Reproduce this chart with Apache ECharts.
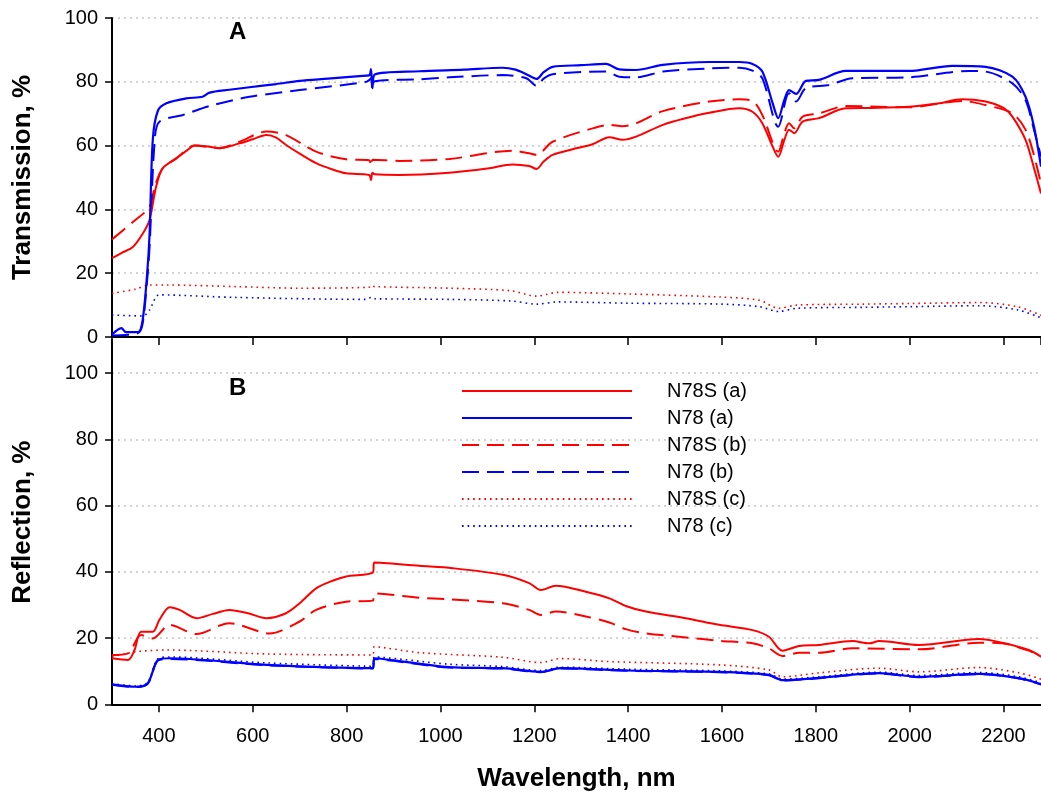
<!DOCTYPE html>
<html>
<head>
<meta charset="utf-8">
<script src="https://cdn.jsdelivr.net/npm/echarts@6/dist/echarts.min.js"></script>
<style>
  html, body { margin: 0; padding: 0; background: #fff; }
  #chart { width: 1041px; height: 800px; }
</style>
</head>
<body>
<div id="chart"></div>
<script>
// series names (legend)
var seriesNames = ['N78S (a)', 'N78 (a)', 'N78S (b)', 'N78 (b)', 'N78S (c)', 'N78 (c)'];

// panel A - transmission, [wavelength nm, %]
var transN78Sa = [[300,24.7],[320,26.3],[345,28.3],[366,32.5],[380,36.7],[394,47.1],[408,52.9],[437,56],[460,58.5],[476,60],[500,59.8],[529,59.2],[572,60.7],[600,62],[629,63.3],[650,62.5],[671,60.2],[700,57.5],[735,54.5],[770,52.5],[799,51.3],[848,50.8],[852,49.2],[855,51.5],[860,51],[913,50.8],[1019,51.5],[1100,52.8],[1154,54.1],[1189,53.6],[1205,52.7],[1220,55],[1239,57.1],[1280,58.8],[1324,60.4],[1360,62.6],[1388,61.8],[1417,62.8],[1474,66.5],[1520,68.5],[1573,70.3],[1637,71.7],[1665,70.6],[1686,67],[1708,59.7],[1720,56.5],[1733,61.8],[1743,65],[1754,63.9],[1772,67.5],[1807,68.6],[1864,71.7],[1920,71.8],[1999,72.2],[2060,73.2],[2112,74.5],[2162,73.8],[2200,71.8],[2219,69.1],[2247,61.8],[2265,53],[2280,45]];
var transN78a = [[300,0.8],[320,2.8],[330,1.5],[355,1.5],[365,5],[375,20],[380,32],[387,62],[398,71],[416,73.3],[458,74.8],[493,75.3],[508,76.6],[550,77.5],[593,78.3],[650,79.3],[700,80.3],[760,81],[827,81.8],[848,82],[852,84],[855,78],[860,82.3],[955,83.3],[1050,83.8],[1132,84.4],[1160,83.8],[1183,82.4],[1205,80.9],[1220,83],[1239,84.7],[1300,85.2],[1353,85.6],[1381,83.9],[1417,83.7],[1474,85.3],[1573,86.2],[1637,86.2],[1665,85.6],[1686,83.2],[1708,73.3],[1720,68.6],[1733,74.3],[1743,77.4],[1758,76.2],[1779,80.3],[1807,80.6],[1864,83.4],[1999,83.4],[2091,85],[2162,84.7],[2219,81.6],[2247,75.3],[2265,66],[2280,53.4]];
var transN78Sb = [[300,30.6],[345,36.1],[380,40.8],[391,47.1],[408,52.9],[437,56],[476,60],[529,59.2],[572,61.2],[629,64.4],[671,63.3],[735,58.1],[799,55.7],[848,55.4],[852,53.5],[856,55.6],[913,55.2],[1019,55.8],[1154,58.4],[1189,57.6],[1205,57.1],[1239,61.2],[1324,65.4],[1360,66.5],[1388,66.1],[1417,67],[1474,70.8],[1573,73.8],[1637,74.5],[1665,74],[1686,69.6],[1720,58.1],[1733,63.9],[1743,67],[1754,65.4],[1772,69.1],[1807,70.1],[1864,72.4],[1999,72],[2112,74],[2162,72.7],[2219,70.1],[2247,65],[2265,57],[2280,48]];
var transN78b = [[300,0.5],[355,1.2],[365,4],[375,18],[380,28],[391,61.8],[401,67.5],[451,69.6],[508,72.4],[593,75.3],[700,77.4],[842,80],[852,81],[855,77.5],[860,80.2],[955,80.8],[1019,81.4],[1132,82.1],[1183,81.1],[1205,78.7],[1220,81],[1239,82.4],[1353,83.2],[1381,81.6],[1417,81.4],[1474,83.2],[1573,84.2],[1637,84.4],[1665,83.5],[1686,81.1],[1720,65.9],[1743,76.4],[1758,73.8],[1779,78],[1828,79],[1878,81.1],[1999,81.4],[2127,83.4],[2162,83.2],[2219,79.5],[2247,74.3],[2265,65],[2280,56.5]];
var transN78Sc = [[300,13.7],[350,15],[380,16.3],[416,16.3],[565,15.8],[700,15.3],[848,15.6],[852,16.2],[860,15.8],[1019,15.3],[1150,14.5],[1205,12.8],[1250,14],[1400,13.5],[1600,12.5],[1680,11.5],[1720,9],[1760,10],[1900,10.3],[2000,10.5],[2150,10.8],[2230,9.5],[2280,6.8]];
var transN78c = [[300,6.9],[366,6.6],[380,8.5],[401,13.2],[565,12.4],[842,11.8],[852,12.4],[860,12],[1019,11.8],[1150,11.3],[1205,10.3],[1250,11],[1400,10.6],[1600,10.3],[1680,9.5],[1720,8],[1760,9],[1900,9.3],[2000,9.5],[2150,9.8],[2230,8.5],[2280,6]];

// panel B - reflection, [wavelength nm, %]
var reflN78Sa = [[300,13.9],[334,13.4],[348,16.4],[362,21.9],[387,21.9],[401,25.5],[423,29.3],[444,28.5],[480,26],[515,27.3],[550,28.5],[590,27.5],[629,26],[671,27.5],[700,30.5],[735,35],[770,37.3],[799,38.6],[856,39.8],[859,42.8],[955,41.8],[1026,41.1],[1133,39.1],[1189,36.6],[1214,34.5],[1246,35.8],[1310,34],[1360,32],[1395,29.7],[1438,28],[1523,26],[1594,24],[1665,22.4],[1700,20.4],[1729,16.2],[1765,17.6],[1807,17.9],[1878,19.1],[1914,18.4],[1935,19.1],[2020,17.9],[2148,19.7],[2197,18.6],[2254,16.4],[2280,14.4]];
var reflN78a = [[300,6],[350,5.3],[376,6.3],[398,13.4],[423,13.9],[629,11.9],[856,10.9],[859,13.9],[1019,11.2],[1133,10.9],[1214,9.8],[1256,10.9],[1400,10.2],[1594,9.8],[1700,8.9],[1729,7.3],[1807,8],[1935,9.4],[2020,8.3],[2148,9.2],[2233,7.9],[2280,6.1]];
var reflN78Sb = [[300,14.9],[334,15.4],[362,20.9],[387,19.9],[423,24],[480,21.2],[550,24.5],[636,21.4],[700,25],[735,28.5],[799,31],[856,31.3],[859,33.5],[955,32.2],[1019,31.7],[1133,30.5],[1189,28.5],[1214,27],[1246,28],[1310,26.5],[1360,24.7],[1395,22.7],[1438,21.4],[1523,20.2],[1594,19.2],[1665,18.4],[1700,16.9],[1729,14.6],[1765,15.6],[1807,15.6],[1878,16.9],[2020,16.6],[2148,18.6],[2197,18.4],[2254,16.2],[2280,14.4]];
var reflN78b = [[300,5.9],[350,5.2],[376,6.2],[398,13.2],[423,13.7],[629,11.8],[856,10.8],[859,13.7],[1019,11.1],[1133,10.8],[1214,9.7],[1256,10.8],[1400,10.1],[1594,9.7],[1700,8.8],[1729,7.2],[1807,7.9],[1935,9.3],[2020,8.2],[2148,9.1],[2233,7.8],[2280,6]];
var reflN78Sc = [[300,14.4],[334,15.4],[350,15.9],[416,16.4],[629,15.2],[856,14.9],[859,17.4],[955,15.6],[1133,14.2],[1214,12.6],[1256,13.8],[1360,12.9],[1594,11.9],[1700,10.4],[1729,8.3],[1807,9.5],[1935,10.9],[2020,9.8],[2148,11.1],[2233,9.5],[2280,7.6]];
var reflN78c = [[300,6.2],[350,5.6],[376,6.6],[398,13.8],[423,14.3],[629,12.5],[856,11.5],[859,14.3],[1019,12.1],[1133,11.4],[1214,10.2],[1256,11.2],[1400,10.6],[1594,10.1],[1700,9.2],[1729,7.6],[1807,8.3],[1935,9.7],[2020,8.7],[2148,9.6],[2233,8.3],[2280,6.5]];

var FONT = '"Liberation Sans", Arial, sans-serif';
var RED = '#ff0000', BLUE = '#0000ff';

var myChart = echarts.init(document.getElementById('chart'));

function xAx(gridIndex, withLabels) {
    return {
        type: 'value', gridIndex: gridIndex, min: 300, max: 2280,
        minInterval: 200, maxInterval: 200,
        axisLine: { lineStyle: { color: '#000', width: 2 } },
        axisTick: { length: 8, lineStyle: { color: '#000', width: 1.5 } },
        axisLabel: {
            show: withLabels, showMinLabel: false, showMaxLabel: false,
            color: '#000', fontFamily: FONT, fontSize: 20, margin: 22,
            formatter: function (v) { return String(v); }
        },
        splitLine: { show: false },
        name: withLabels ? 'Wavelength, nm' : '',
        nameLocation: 'middle', nameGap: 62,
        nameTextStyle: { color: '#000', fontFamily: FONT, fontSize: 26, fontWeight: 'bold' }
    };
}

function yAx(gridIndex, max, name) {
    return {
        type: 'value', gridIndex: gridIndex, min: 0, max: max, interval: 20,
        axisLine: { show: true, lineStyle: { color: '#000', width: 2 } },
        axisTick: { show: true, length: 7, lineStyle: { color: '#000', width: 1.5 } },
        axisLabel: { color: '#000', fontFamily: FONT, fontSize: 20, margin: 14, showMaxLabel: max === 100 },
        splitLine: {
            show: true, showMinLine: false, showMaxLine: max === 100,
            lineStyle: { color: '#c4c4c4', type: [2, 4], width: 1.5 }
        },
        name: name, nameLocation: 'middle', nameGap: 76,
        nameTextStyle: { color: '#000', fontFamily: FONT, fontSize: 26, fontWeight: 'bold' }
    };
}

// line styles for the six legend entries
var styles = {
    'N78S (a)': { color: RED, width: 2, type: 'solid' },
    'N78 (a)': { color: BLUE, width: 2.2, type: 'solid' },
    'N78S (b)': { color: RED, width: 2, type: [17, 8] },
    'N78 (b)': { color: BLUE, width: 2, type: [17, 8] },
    'N78S (c)': { color: RED, width: 1.6, type: [1.6, 4] },
    'N78 (c)': { color: BLUE, width: 1.6, type: [1.6, 4] }
};

function mk(name, idx, data) {
    return {
        name: name, type: 'line', xAxisIndex: idx, yAxisIndex: idx,
        data: data, showSymbol: false, symbol: 'none', smooth: 0.3,
        animation: false, color: styles[name].color,
        lineStyle: styles[name]
    };
}

var option = {
    animation: false,
    backgroundColor: '#fff',
    grid: [
        { left: 112, right: 0, top: 18, height: 319 },
        { left: 112, right: 0, top: 340, height: 364.3 }
    ],
    xAxis: [xAx(0, false), xAx(1, true)],
    yAxis: [yAx(0, 100, 'Transmission, %'), yAx(1, 110, 'Reflection, %')],
    legend: {
        data: seriesNames, orient: 'vertical', left: 456, top: 375,
        itemWidth: 170, itemHeight: 14, itemGap: 5,
        itemStyle: { opacity: 0 },
        textStyle: { color: '#000', fontFamily: FONT, fontSize: 20, lineHeight: 22, padding: [0, 0, 0, 30] }
    },
    graphic: [
        { type: 'text', left: 229, top: 20, style: { text: 'A', font: 'bold 24px ' + FONT, fill: '#000' } },
        { type: 'text', left: 229, top: 376, style: { text: 'B', font: 'bold 24px ' + FONT, fill: '#000' } }
    ],
    series: [
        mk('N78S (c)', 0, transN78Sc), mk('N78 (c)', 0, transN78c),
        mk('N78S (b)', 0, transN78Sb), mk('N78 (b)', 0, transN78b),
        mk('N78S (a)', 0, transN78Sa), mk('N78 (a)', 0, transN78a),
        mk('N78S (c)', 1, reflN78Sc), mk('N78 (c)', 1, reflN78c),
        mk('N78S (b)', 1, reflN78Sb), mk('N78 (b)', 1, reflN78b),
        mk('N78S (a)', 1, reflN78Sa), mk('N78 (a)', 1, reflN78a)
    ]
};
if (option && typeof option === "object") {
    myChart.setOption(option, true);
}
</script>
</body>
</html>
